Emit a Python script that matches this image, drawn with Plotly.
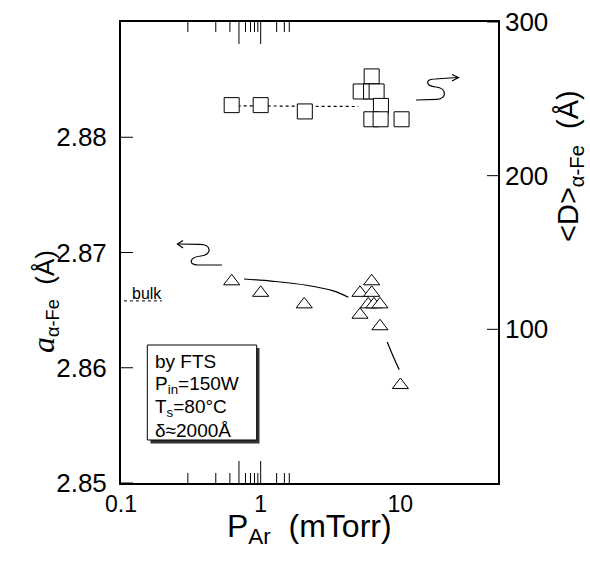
import numpy as np
import plotly.graph_objects as go

# ---- data ----------------------------------------------------------------
# lattice constant a(alpha-Fe) vs Ar pressure (left axis)
p_lat = [0.62, 1.0, 2.05, 5.14, 6.23, 5.89, 6.47, 7.14, 6.23, 5.14, 7.14, 10.0]
a_lat = [2.8675, 2.8665, 2.8655, 2.8665, 2.8665, 2.8655, 2.8655, 2.8655,
         2.8675, 2.8646, 2.8636, 2.8585]

# grain size <D>(alpha-Fe) vs Ar pressure (right axis)
p_grain = [0.62, 1.0, 2.07, 6.23, 5.2, 6.17, 6.76, 7.26, 6.2, 7.22, 10.2]
d_grain = [245.9, 245.9, 241.8, 264.6, 254.8, 254.8, 254.8, 245.4,
           236.7, 236.7, 236.7]

# hand-drawn guide curves through the lattice-constant data
guide1_p = [0.76, 1.23, 2.13, 3.31, 4.24]
guide1_a = [2.8677, 2.8675, 2.86716, 2.86667, 2.86611]
guide2_p = [8.05, 8.89, 9.82]
guide2_a = [2.86223, 2.86098, 2.85983]

# dotted guide through the grain-size data
guide_d_p = [0.62, 5.0]
guide_d_v = [245.5, 245.0]

# bulk alpha-Fe reference level
bulk_p = [0.105, 0.196]
bulk_a = [2.8658, 2.8658]

x_tickvals = [0.1, 0.5, 1, 5, 10]
x_ticktext = ["0.1", " ", "1", " ", "10"]
x_minor = [0.2, 0.3, 0.4, 0.6, 0.7, 0.8, 0.9, 2, 3, 4, 6, 7, 8, 9, 20, 30, 40]
y_tickvals = [2.85, 2.86, 2.87, 2.88]
y2_tickvals = [100, 200, 300]

# ---- layout geometry (pixels) ---------------------------------------------
W, H = 590, 563
L, R, T, B = 121, 92, 22, 80
PW, PH = W - L - R, H - T - B


def px(x, y):
    """pixel position inside the page -> paper coordinates"""
    return (x - L) / PW, (H - B - y) / PH


def path(cmds):
    out = []
    for c in cmds:
        if isinstance(c, str):
            out.append(c)
        else:
            xp, yp = px(*c)
            out.append(f"{xp:.4f},{yp:.4f}")
    return " ".join(out)


FONT = "Liberation Sans, Arial, Helvetica, sans-serif"
TICKFONT = dict(family=FONT, size=26, color="black")

fig = go.Figure()

# guides (drawn first so markers sit on top)
fig.add_trace(go.Scatter(x=guide1_p, y=guide1_a, mode="lines",
                         line=dict(color="black", width=1.2, shape="spline"),
                         showlegend=False, hoverinfo="skip"))
fig.add_trace(go.Scatter(x=guide2_p, y=guide2_a, mode="lines",
                         line=dict(color="black", width=1.2, shape="spline"),
                         showlegend=False, hoverinfo="skip"))
fig.add_trace(go.Scatter(x=bulk_p, y=bulk_a, mode="lines",
                         line=dict(color="black", width=1, dash="dot"),
                         showlegend=False, hoverinfo="skip"))
fig.add_trace(go.Scatter(x=guide_d_p, y=guide_d_v, mode="lines", yaxis="y2",
                         line=dict(color="black", width=1.2, dash="dot"),
                         showlegend=False, hoverinfo="skip"))

# data markers
fig.add_trace(go.Scatter(x=p_lat, y=a_lat, mode="markers",
                         marker=dict(symbol="triangle-up", size=14, color="white",
                                     line=dict(color="black", width=1)),
                         showlegend=False))
fig.add_trace(go.Scatter(x=p_grain, y=d_grain, mode="markers", yaxis="y2",
                         marker=dict(symbol="square", size=15, color="white",
                                     line=dict(color="black", width=1)),
                         showlegend=False))

fig.update_layout(
    width=W, height=H,
    margin=dict(l=L, r=R, t=T, b=B, autoexpand=False),
    paper_bgcolor="white", plot_bgcolor="white",
    showlegend=False,
    xaxis=dict(type="log", range=[-1, np.log10(50)],
               tickvals=x_tickvals, ticktext=x_ticktext, ticks="",
               showline=True, linecolor="black", linewidth=1.5, mirror=True,
               showgrid=False, tickfont=dict(family=FONT, size=23, color="black")),
    yaxis=dict(range=[2.85, 2.89], tickvals=y_tickvals,
               ticktext=[f"{v:.2f}\u00a0" for v in y_tickvals], ticks="",
               showline=True, linecolor="black", linewidth=1.5,
               showgrid=False, zeroline=False, tickfont=TICKFONT),
    yaxis2=dict(range=[0, 300], overlaying="y", side="right",
                tickvals=y2_tickvals, ticks="",
                showline=True, linecolor="black", linewidth=1.5,
                showgrid=False, zeroline=False, tickfont=TICKFONT),
)

# inward tick marks, placed at the axis tick values
tick_line = dict(color="black", width=1)
for vals, length in ((x_tickvals, 22), (x_minor, 10)):
    for v in vals:
        lv = float(np.log10(v))
        fig.add_shape(type="line", xref="x", yref="paper", x0=lv, x1=lv,
                      y0=0, y1=length / PH, line=tick_line)
        fig.add_shape(type="line", xref="x", yref="paper", x0=lv, x1=lv,
                      y0=1, y1=1 - length / PH, line=tick_line)
for v in y_tickvals:
    fig.add_shape(type="line", xref="paper", yref="y", x0=0, x1=12 / PW,
                  y0=v, y1=v, line=tick_line)
for v in y2_tickvals:
    fig.add_shape(type="line", xref="paper", yref="y2", x0=1, x1=1 - 11 / PW,
                  y0=v, y1=v, line=tick_line)

# axis titles
fig.add_annotation(xref="paper", yref="paper", x=0.5, y=px(0, 528)[1],
                   text="P<sub>Ar</sub>  (mTorr)", showarrow=False,
                   font=dict(family=FONT, size=32, color="black"),
                   xanchor="center", yanchor="middle")
fig.add_annotation(xref="paper", yref="paper", x=px(44, 0)[0], y=px(0, 302)[1],
                   text="<span style=\"font-family:'Liberation Serif';font-style:italic;font-size:32px\">a</span>"
                        "<sub>α-Fe</sub>  (Å)",
                   textangle=-90, showarrow=False,
                   font=dict(family=FONT, size=26, color="black"),
                   xanchor="center", yanchor="middle")
fig.add_annotation(xref="paper", yref="paper", x=px(570, 0)[0], y=px(0, 166)[1],
                   text="&lt;D&gt;<sub>α-Fe</sub>  (Å)",
                   textangle=-90, showarrow=False,
                   font=dict(family=FONT, size=29, color="black"),
                   xanchor="center", yanchor="middle")

# bulk label
fig.add_annotation(xref="paper", yref="paper", x=px(147, 0)[0], y=px(0, 293)[1],
                   text="bulk", showarrow=False,
                   font=dict(family=FONT, size=16, color="black"),
                   xanchor="center", yanchor="middle")

# deposition-condition box with drop shadow
sx0, sy0 = px(150.5, 443.5)
sx1, sy1 = px(259.5, 348)
bx0, by0 = px(147.3, 440)
bx1, by1 = px(256.7, 345)
fig.add_shape(type="rect", xref="paper", yref="paper", x0=sx0, y0=sy0,
              x1=sx1, y1=sy1, fillcolor="#333333", line=dict(width=0))
fig.add_shape(type="rect", xref="paper", yref="paper", x0=bx0, y0=by0,
              x1=bx1, y1=by1, fillcolor="white",
              line=dict(color="black", width=1))
box_lines = ["by FTS", "P<sub>in</sub>=150W", "T<sub>s</sub>=80°C", "δ≈2000Å"]
box_base = [368, 392, 415, 437]
for txt, yb in zip(box_lines, box_base):
    fig.add_annotation(xref="paper", yref="paper", x=px(153, 0)[0],
                       y=px(0, yb - 7)[1], text=txt, showarrow=False,
                       font=dict(family=FONT, size=19, color="black"),
                       xanchor="left", yanchor="middle")

# curly arrows pointing to the relevant axis
arrow_line = dict(color="black", width=1.2)
fig.add_shape(type="path", xref="paper", yref="paper", line=arrow_line,
              path=path(["M", (416, 100), "L", (437, 99.3),
                         "C", (447, 99), (447, 88), (436, 87),
                         "C", (425, 86), (425, 79), (435, 79),
                         "L", (457, 77.5)]))
fig.add_shape(type="path", xref="paper", yref="paper", line=arrow_line,
              path=path(["M", (452, 74.5), "L", (458.5, 77.5), "L", (452, 81)]))
fig.add_shape(type="path", xref="paper", yref="paper", line=arrow_line,
              path=path(["M", (177.5, 244), "L", (200, 244.3),
                         "C", (212, 244.5), (212, 255), (201, 256),
                         "C", (189, 257), (188, 265), (198, 265),
                         "L", (222, 265)]))
fig.add_shape(type="path", xref="paper", yref="paper", line=arrow_line,
              path=path(["M", (183, 240.5), "L", (177.5, 244), "L", (183, 248)]))

fig.write_html("out.html")
